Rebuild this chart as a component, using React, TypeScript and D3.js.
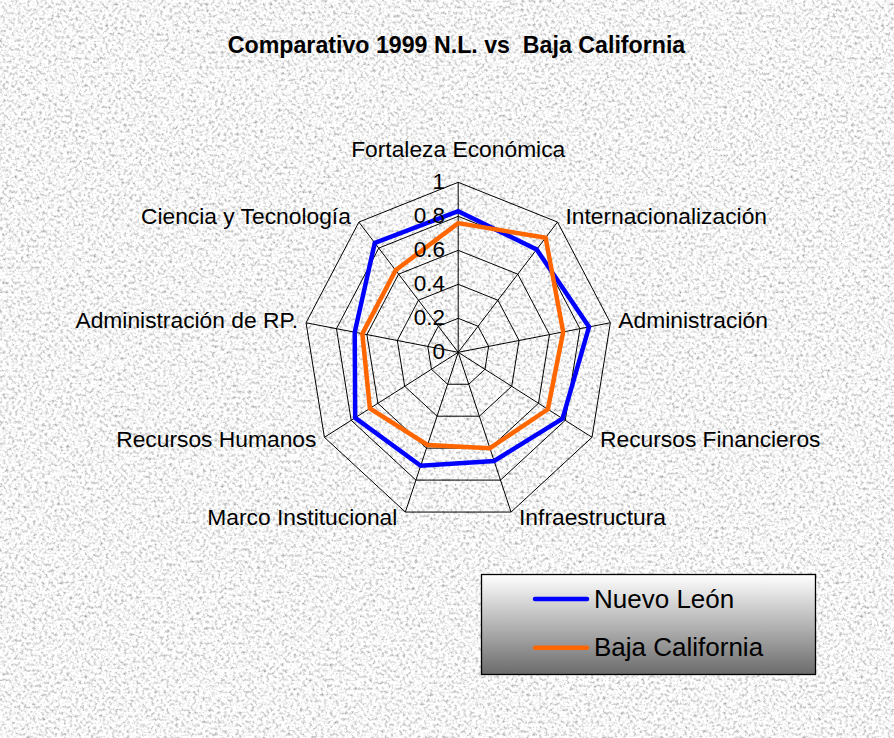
import React from 'react';
import * as d3 from 'd3';

const categories = [
  'Fortaleza Económica',
  'Internacionalización',
  'Administración',
  'Recursos Financieros',
  'Infraestructura',
  'Marco Institucional',
  'Recursos Humanos',
  'Administración de RP.',
  'Ciencia y Tecnología',
];
const nuevoLeon = [0.83, 0.79, 0.86, 0.78, 0.68, 0.71, 0.77, 0.68, 0.84];
const bajaCalifornia = [0.76, 0.88, 0.69, 0.67, 0.6, 0.58, 0.66, 0.63, 0.63];
const tickValues = [0, 0.2, 0.4, 0.6, 0.8, 1];
const tickLabels = ['0', '0.2', '0.4', '0.6', '0.8', '1'];
const seriesNames = ['Nuevo León', 'Baja California'];
const seriesColors = ['#0000FF', '#FF6600'];
const title = 'Comparativo 1999 N.L. vs  Baja California';

const W = 894;
const H = 738;
const cx = 458.2;
const cy = 352.3;
const Rx = 154.5;
const Ry = 170;
const FONT = "'Liberation Sans', Arial, Helvetica, sans-serif";

export default function App() {
  const n = categories.length;
  const angle = d3.scaleLinear().domain([0, n]).range([0, 2 * Math.PI]);
  const r = d3.scaleLinear().domain([0, 1]).range([0, 1]);
  const xs = d3.scaleLinear().domain([-1, 1]).range([cx - Rx, cx + Rx]);
  const ys = d3.scaleLinear().domain([-1, 1]).range([cy + Ry, cy - Ry]);
  const pt = (v: number, i: number): [number, number] => [
    xs(r(v) * Math.sin(angle(i))),
    ys(r(v) * Math.cos(angle(i))),
  ];
  const closed = d3.line<[number, number]>().curve(d3.curveLinearClosed);
  const series = [nuevoLeon, bajaCalifornia];

  return (
    <svg
      width={W}
      height={H}
      viewBox={`0 0 ${W} ${H}`}
      style={{ position: 'absolute', left: 0, top: 0, display: 'block' }}
      fontFamily={FONT}
    >
      <defs>
        <filter id="granite" x="0" y="0" width={W} height={H} filterUnits="userSpaceOnUse">
          <feTurbulence type="fractalNoise" baseFrequency="0.33" numOctaves="3" seed="7" result="noise" />
          <feColorMatrix
            in="noise"
            type="matrix"
            values="1.4 0 0 0 0.22  1.4 0 0 0 0.22  1.4 0 0 0 0.22  0 0 0 0 1"
          />
        </filter>
        <linearGradient id="legendGrad" x1="0" y1="0" x2="0" y2="1">
          <stop offset="0" stopColor="#ffffff" />
          <stop offset="1" stopColor="#6b6b6b" />
        </linearGradient>
      </defs>
      <rect x={0} y={0} width={W} height={H} fill="#e3e3e3" />
      <rect x={0} y={0} width={W} height={H} filter="url(#granite)" />

      <text
        x={456.5}
        y={53}
        textAnchor="middle"
        fontSize={23.2}
        fontWeight="bold"
        fill="#000"
        style={{ whiteSpace: 'pre' }}
        xmlSpace="preserve"
      >
        {title}
      </text>

      {/* grid rings */}
      {tickValues
        .filter((t) => t > 0)
        .map((t) => (
          <path
            key={`ring-${t}`}
            d={closed(categories.map((_, i) => pt(t, i))) || ''}
            fill="none"
            stroke="#000"
            strokeWidth={1}
          />
        ))}
      {/* spokes */}
      {categories.map((c, i) => {
        const [x2, y2] = pt(1, i);
        return <line key={`sp-${c}`} x1={cx} y1={cy} x2={x2} y2={y2} stroke="#000" strokeWidth={1} />;
      })}

      {/* series */}
      {series.map((s, k) => (
        <path
          key={seriesNames[k]}
          d={closed(s.map((v, i) => pt(v, i))) || ''}
          fill="none"
          stroke={seriesColors[k]}
          strokeWidth={4.5}
          strokeLinejoin="miter"
        />
      ))}

      {/* tick labels */}
      {tickValues.map((t, j) => (
        <text key={`tk-${t}`} x={445} y={ys(r(t)) + 7} textAnchor="end" fontSize={22.5} fill="#000">
          {tickLabels[j]}
        </text>
      ))}

      {/* category labels */}
      {categories.map((c, i) => {
        const a = angle(i);
        const [vx, vy] = pt(1, i);
        const s = Math.sin(a);
        if (Math.abs(s) < 1e-6) {
          return (
            <text key={`lb-${c}`} x={vx} y={vy - 25} textAnchor="middle" fontSize={22.8} fill="#000">
              {c}
            </text>
          );
        }
        return (
          <text
            key={`lb-${c}`}
            x={vx + (s > 0 ? 8 : -8)}
            y={vy + 6.5 - 6.5 * Math.cos(a)}
            textAnchor={s > 0 ? 'start' : 'end'}
            fontSize={22.8}
            fill="#000"
          >
            {c}
          </text>
        );
      })}

      {/* legend */}
      <rect x={481.5} y={574.5} width={334} height={100} fill="url(#legendGrad)" stroke="#000" strokeWidth={1.3} />
      {seriesNames.map((name, k) => (
        <g key={`lg-${name}`}>
          <line
            x1={535}
            x2={587}
            y1={599 + k * 48.7}
            y2={599 + k * 48.7}
            stroke={seriesColors[k]}
            strokeWidth={4.5}
            strokeLinecap="round"
          />
          <text x={594} y={607.5 + k * 48.7} fontSize={26} fill="#000">
            {name}
          </text>
        </g>
      ))}
    </svg>
  );
}
